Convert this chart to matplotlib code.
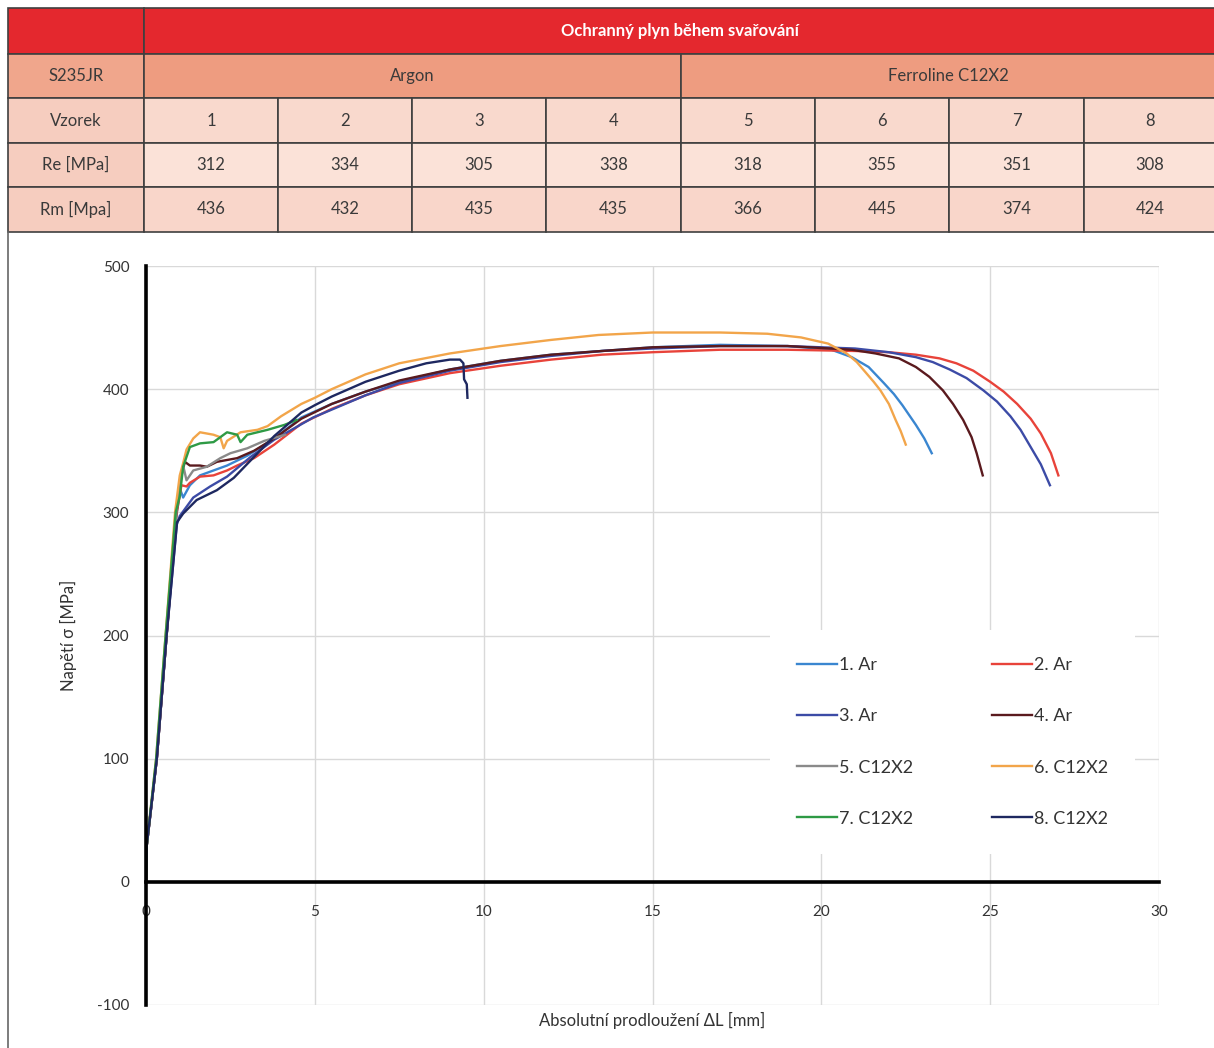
import matplotlib.pyplot as plt
from matplotlib.patches import Rectangle

plt.rcParams['font.family'] = ['Lato', 'DejaVu Sans']
plt.rcParams['axes.unicode_minus'] = False

# table data
table_title = "Ochranný plyn během svařování"
material = "S235JR"
gases = ["Argon", "Ferroline C12X2"]
samples = ["1", "2", "3", "4", "5", "6", "7", "8"]
re_vals = [312, 334, 305, 338, 318, 355, 351, 308]
rm_vals = [436, 432, 435, 435, 366, 445, 374, 424]
row_labels = ["Vzorek", "Re [MPa]", "Rm [Mpa]"]

# tensile curves (dL [mm], sigma [MPa])
x1 = [0, 0.02, 0.32, 0.61, 0.90, 1.02, 1.10, 1.30, 1.60, 2.0, 2.4, 3.0, 3.8, 4.6, 5.5, 6.5, 7.5, 9.0,
      10.5, 12.0, 13.5, 15.0, 17.0, 19.0, 20.3, 20.9, 21.4, 21.85, 22.15, 22.4, 22.6, 22.8, 23.05, 23.27]
y1 = [0, 29, 100, 200, 298, 318, 312, 322, 330, 334, 338, 346, 360, 377, 388, 398, 406, 416,
      423, 428, 431, 434, 436, 435, 432, 426, 418, 405, 396, 387, 379, 371, 360, 348]

x2 = [0, 0.02, 0.32, 0.61, 0.90, 1.05, 1.20, 1.30, 1.60, 2.0, 2.4, 2.7, 3.2, 3.8, 4.6, 5.5, 6.5, 7.5,
      9.0, 10.5, 12.0, 13.5, 15.0, 17.0, 19.0, 21.0, 22.0, 22.8, 23.5, 24.0, 24.5, 25.0, 25.4, 25.8,
      26.2, 26.5, 26.8, 27.02]
y2 = [0, 29, 100, 200, 298, 322, 321, 324, 329, 330, 334, 338, 344, 355, 372, 384, 395, 404,
      413, 419, 424, 428, 430, 432, 432, 431, 430, 428, 425, 421, 415, 406, 398, 388,
      376, 364, 348, 330]

x3 = [0, 0.02, 0.32, 0.61, 0.91, 1.0, 1.4, 1.9, 2.4, 3.1, 3.8, 4.95, 6.5, 7.5, 9.0, 10.5, 12.0,
      13.5, 15.0, 17.0, 19.0, 21.0, 22.0, 22.8, 23.3, 23.8, 24.3, 24.8, 25.2, 25.6, 25.9, 26.2,
      26.5, 26.77]
y3 = [0, 29, 100, 200, 290, 297, 312, 321, 329, 345, 359, 377, 395, 405, 415, 422, 427,
      431, 433, 435, 435, 433, 430, 426, 422, 416, 409, 399, 390, 378, 367, 353,
      339, 322]

x4 = [0, 0.02, 0.32, 0.61, 0.90, 1.05, 1.15, 1.30, 1.60, 1.80, 2.1, 2.7, 3.2, 3.8, 4.6, 5.5, 6.5,
      7.5, 9.0, 10.5, 12.0, 13.5, 15.0, 17.0, 19.0, 20.9, 21.6, 22.3, 22.8, 23.2, 23.6, 23.9,
      24.2, 24.45, 24.6, 24.78]
y4 = [0, 29, 100, 200, 300, 330, 341, 338, 338, 337, 341, 344, 350, 360, 376, 388, 398,
      407, 416, 423, 428, 431, 434, 435, 435, 432, 429, 425, 418, 410, 399, 388,
      375, 361, 348, 330]

x5 = [0, 0.02, 0.32, 0.61, 0.90, 1.05, 1.10, 1.20, 1.40, 1.80, 2.2, 2.5, 3.0, 3.5, 4.12]
y5 = [0, 29, 100, 200, 300, 330, 338, 326, 334, 337, 344, 348, 352, 358, 363]

x6 = [0, 0.02, 0.30, 0.58, 0.86, 1.00, 1.10, 1.20, 1.40, 1.60, 1.80, 2.0, 2.2, 2.3, 2.4, 2.8, 3.3,
      3.6, 4.0, 4.6, 5.0, 5.5, 6.5, 7.5, 9.0, 10.5, 12.0, 13.4, 15.0, 17.0, 18.4, 19.4, 20.2, 20.75,
      21.05, 21.3, 21.55, 21.75, 22.0, 22.2, 22.35, 22.5]
y6 = [0, 29, 100, 200, 300, 330, 340, 351, 360, 365, 364, 363, 361, 352, 358, 365, 367,
      370, 378, 388, 393, 400, 412, 421, 429, 435, 440, 444, 446, 446, 445, 442, 437, 429,
      422, 414, 406, 399, 388, 375, 366, 355]

x7 = [0, 0.02, 0.30, 0.58, 0.88, 1.0, 1.1, 1.3, 1.6, 2.0, 2.4, 2.7, 2.8, 3.0, 3.6, 4.1, 4.46]
y7 = [0, 29, 100, 200, 300, 313, 337, 353, 356, 357, 365, 363, 357, 363, 367, 371, 375]

x8 = [0, 0.02, 0.32, 0.61, 0.92, 1.10, 1.5, 2.1, 2.6, 3.2, 3.8, 4.6, 5.0, 5.5, 6.5, 7.5, 8.3, 9.0,
      9.3, 9.4, 9.42, 9.5, 9.52]
y8 = [0, 29, 100, 200, 292, 299, 310, 318, 328, 345, 362, 381, 387, 394, 406, 415, 421, 424,
      424, 421, 408, 404, 393]

labels = ["1. Ar", "2. Ar", "3. Ar", "4. Ar", "5. C12X2", "6. C12X2", "7. C12X2", "8. C12X2"]
colors = ["#3A86D0", "#E8433A", "#3C4BA6", "#5A1A1E", "#8A8A8A", "#F2A54A", "#2E9A45", "#1E2860"]
curves = [(x1, y1), (x2, y2), (x3, y3), (x4, y4), (x5, y5), (x6, y6), (x7, y7), (x8, y8)]

W, H = 1214, 1048
fig = plt.figure(figsize=(W / 100, H / 100), dpi=100)

# background layer in pixel coords for the table and frame
bg = fig.add_axes([0, 0, 1, 1], zorder=0)
bg.set_xlim(0, W)
bg.set_ylim(H, 0)
bg.axis('off')

col_edges = [8, 144, 278, 412, 546, 681, 815, 949, 1084, 1216]
row_edges = [8, 54, 98, 143, 187, 232]
edge = "#3f3f3f"
txt = "#3a3a3a"


def cell(x0, x1_, y0, y1_, face, text, color=txt, weight='normal'):
    bg.add_patch(Rectangle((x0, y0), x1_ - x0, y1_ - y0, facecolor=face, edgecolor=edge, lw=1.2))
    if text:
        bg.text((x0 + x1_) / 2, (y0 + y1_) / 2, text, ha='center', va='center',
                fontsize=12, color=color, fontweight=weight)


red = "#E4282E"
salmon = "#EE9C80"
cell(col_edges[0], col_edges[1], row_edges[0], row_edges[1], red, "")
cell(col_edges[1], col_edges[-1], row_edges[0], row_edges[1], red, table_title, color="white", weight='bold')
cell(col_edges[0], col_edges[1], row_edges[1], row_edges[2], "#F0A68C", material)
cell(col_edges[1], col_edges[5], row_edges[1], row_edges[2], salmon, gases[0])
cell(col_edges[5], col_edges[-1], row_edges[1], row_edges[2], salmon, gases[1])

row_faces = ["#F9D9CD", "#FBE2D8", "#F9D6CA"]
row_values = [samples, [str(v) for v in re_vals], [str(v) for v in rm_vals]]
for r in range(3):
    y0, y1_ = row_edges[r + 2], row_edges[r + 3]
    cell(col_edges[0], col_edges[1], y0, y1_, "#F6CDBF", row_labels[r])
    for c in range(8):
        cell(col_edges[c + 1], col_edges[c + 2], y0, y1_, row_faces[r], row_values[r][c])

bg.plot([8, 8], [232, H], color="#666666", lw=1.2)

# chart
ax = fig.add_axes([146 / W, 1 - 1005 / H, (1159 - 146) / W, (1005 - 266) / H], zorder=1)
for (xs, ys), lab, col in zip(curves, labels, colors):
    ax.plot(xs, ys, color=col, lw=1.7, label=lab)

ax.set_xlim(0, 30)
ax.set_ylim(-100, 500)
ax.set_xticks(range(0, 31, 5))
ax.set_yticks(range(-100, 501, 100))
ax.grid(True, color="#D9D9D9", lw=1)
ax.set_axisbelow(True)
for s in ['top', 'right']:
    ax.spines[s].set_visible(False)
ax.spines['bottom'].set_position(('data', 0))
ax.spines['bottom'].set_linewidth(2.6)
ax.spines['left'].set_linewidth(2.6)
ax.spines['bottom'].set_zorder(3)
ax.tick_params(length=0, labelsize=11, labelcolor="#333333", pad=17)
ax.tick_params(axis='y', pad=12)

ax.text(-0.077, 0.5, "Napětí σ [MPa]", rotation=90, transform=ax.transAxes,
        ha='center', va='center', fontsize=12, color="#333333")
ax.text(0.5, -0.010, "Absolutní prodloužení ΔL [mm]", transform=ax.transAxes,
        ha='center', va='top', fontsize=12, color="#333333")

handles, labs = ax.get_legend_handles_labels()
order = [0, 2, 4, 6, 1, 3, 5, 7]
leg = ax.legend([handles[i] for i in order], [labs[i] for i in order], ncol=2,
                loc='center', bbox_to_anchor=(0.796, 0.356), fontsize=13,
                frameon=True, facecolor='white', edgecolor='none', framealpha=1,
                handlelength=2.2, handletextpad=0.1, columnspacing=4.4,
                labelspacing=1.95, borderpad=1.5, fancybox=False)
for t in leg.get_texts():
    t.set_color("#333333")

fig.savefig("out.png", dpi=100, facecolor='white')
